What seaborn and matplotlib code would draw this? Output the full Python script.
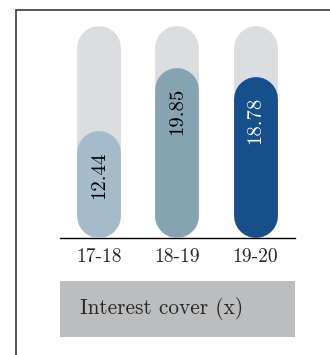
import matplotlib
matplotlib.use('Agg')
import matplotlib.pyplot as plt
import pandas as pd
import seaborn as sns
from matplotlib.patches import Rectangle

years = ['17-18', '18-19', '19-20']
values = [12.44, 19.85, 18.78]
track_max = 24.7
bar_colors = ['#a4bcc9', '#85a3b1', '#174f8c']
label_colors = ['black', 'black', 'white']
title = 'Interest cover (x)'

sns.set_style('white')
plt.rcParams['font.family'] = ['cmr10', 'DejaVu Serif']

W, H = 330, 355
fig = plt.figure(figsize=(W / 100, H / 100), dpi=100)

# axes placed in pixel terms of the reference
ax_left, ax_right, ax_top, ax_bottom = 60, 294.7, 26, 238.3
ax = fig.add_axes([ax_left / W, (H - ax_bottom) / H,
                   (ax_right - ax_left) / W, (ax_bottom - ax_top) / H])

df = pd.DataFrame({'year': years, 'value': values,
                   'track': [track_max] * len(years)})

sns.barplot(data=df, x='year', y='track', color='#dcdde0', width=0.56,
            saturation=1, ax=ax)
sns.barplot(data=df, x='year', y='value', hue='year', palette=bar_colors,
            width=0.56, saturation=1, legend=False, ax=ax)

ax.set_xlim(-0.5, 2.5)
ax.set_ylim(0, track_max)

# turn the flat bars into pills: a thick line with round caps
px_x = (ax_right - ax_left) / 3
px_y = (ax_bottom - ax_top) / track_max

patches = list(ax.patches)
for p in patches:
    x, w, h = p.get_x(), p.get_width(), p.get_height()
    w_px = w * px_x
    r = (w_px / 2) / px_y
    ax.plot([x + w / 2, x + w / 2], [r, h - r], color=p.get_facecolor(),
            lw=w_px * 72 / 100, solid_capstyle='round', clip_on=False,
            zorder=p.get_zorder())
    p.remove()

for i, v in enumerate(values):
    ax.text(i, v - 2.35, f'{v:.2f}', rotation=90, ha='center', va='top',
            fontsize=15, color=label_colors[i], zorder=5)

sns.despine(ax=ax, left=True, top=True, right=True)
ax.spines['bottom'].set_color('black')
ax.spines['bottom'].set_linewidth(1)
ax.spines['bottom'].set_zorder(0.5)
ax.set_xlabel('')
ax.set_ylabel('')
ax.set_yticks([])
ax.tick_params(axis='x', length=0, pad=7, labelsize=14)

# grey caption box
fig.patches.append(Rectangle((ax_left / W, (H - 336.7) / H),
                             (ax_right - ax_left) / W, 55.7 / H,
                             transform=fig.transFigure, facecolor='#bcbdbf',
                             edgecolor='none'))
fig.text(80 / W, (H - 309) / H, title, ha='left', va='center', fontsize=15.3)

# frame, only top and left edges fall inside the image
fig.patches.append(Rectangle((16 / W, -0.05), 1.0, (H - 10) / H + 0.05,
                             transform=fig.transFigure, facecolor='none',
                             edgecolor='#3a3a3a', linewidth=1.2))

fig.savefig('out.png', dpi=100)
